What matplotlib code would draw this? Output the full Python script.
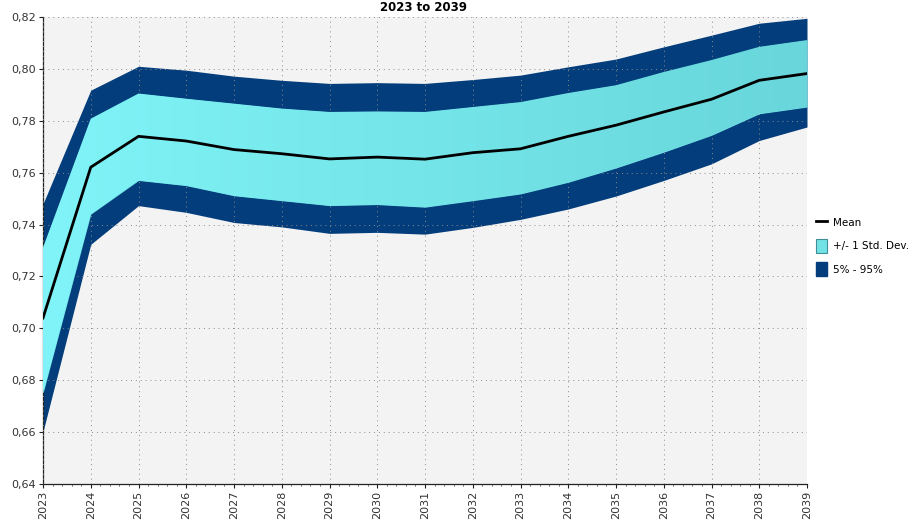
import numpy as np
import matplotlib
matplotlib.use("Agg")
import matplotlib.pyplot as plt
from matplotlib.lines import Line2D
from matplotlib.patches import Patch
from matplotlib.ticker import FixedLocator, FuncFormatter, MultipleLocator

years = list(range(2023, 2040))

mean = [0.7040, 0.7621, 0.7740, 0.7722, 0.7689, 0.7673, 0.7653, 0.7660, 0.7652,
        0.7677, 0.7692, 0.7740, 0.7783, 0.7834, 0.7883, 0.7956, 0.7982]
std_hi = [0.7311, 0.7808, 0.7905, 0.7885, 0.7866, 0.7847, 0.7834, 0.7836, 0.7834,
          0.7853, 0.7872, 0.7907, 0.7937, 0.7988, 0.8034, 0.8085, 0.8111]
std_lo = [0.6750, 0.7440, 0.7570, 0.7550, 0.7511, 0.7492, 0.7473, 0.7477, 0.7467,
          0.7492, 0.7518, 0.7563, 0.7618, 0.7679, 0.7744, 0.7827, 0.7853]
p95 = [0.7480, 0.7918, 0.8010, 0.7995, 0.7972, 0.7956, 0.7944, 0.7947, 0.7944,
       0.7959, 0.7976, 0.8008, 0.8038, 0.8085, 0.8130, 0.8176, 0.8195]
p05 = [0.6602, 0.7324, 0.7473, 0.7447, 0.7408, 0.7391, 0.7366, 0.7370, 0.7363,
       0.7389, 0.7420, 0.7460, 0.7510, 0.7570, 0.7634, 0.7724, 0.7776]

navy = "#033d7b"
cyan = "#72e2e6"

fig = plt.figure(figsize=(9.19, 5.22), dpi=100)
ax = fig.add_axes([43 / 919, 38 / 522, 764 / 919, 467 / 522])
ax.set_facecolor("#f3f3f3")

# 5% - 95% band
ax.fill_between(years, p05, p95, color=navy, lw=0, zorder=2)

# +/- 1 std band, shaded with a soft left-to-right gradient
band = ax.fill_between(years, std_lo, std_hi, color=cyan, lw=0, zorder=3)
grad = np.linspace(0, 1, 256).reshape(1, -1)
c0 = np.array([128, 244, 248]) / 255
c1 = np.array([104, 214, 218]) / 255
img = c0[None, None, :] * (1 - grad[..., None]) + c1[None, None, :] * grad[..., None]
im = ax.imshow(img, extent=[2023, 2039, 0.64, 0.82], aspect="auto",
               origin="lower", zorder=3.5, interpolation="bilinear")
im.set_clip_path(band.get_paths()[0], transform=ax.transData)

ax.plot(years, mean, color="black", lw=2, zorder=5)

ax.set_xlim(2023, 2039)
ax.set_ylim(0.64, 0.82)
ax.xaxis.set_major_locator(FixedLocator(years))
ax.xaxis.set_minor_locator(MultipleLocator(0.2))
ax.yaxis.set_major_locator(MultipleLocator(0.02))
ax.yaxis.set_major_formatter(FuncFormatter(lambda v, p: f"{v:.2f}".replace(".", ",")))
ax.set_xticks(years)
ax.set_xticklabels([str(y) for y in years], rotation=90)

ax.grid(True, which="major", color="#8a8a8a", linestyle=(0, (1, 4)), lw=0.7, zorder=4)
ax.set_axisbelow(False)

for s in ("top", "right"):
    ax.spines[s].set_visible(False)
for s in ("left", "bottom"):
    ax.spines[s].set_color("#222222")
    ax.spines[s].set_linewidth(0.9)

ax.tick_params(axis="both", which="major", length=3, width=0.8, color="#222222",
               labelsize=8, labelcolor="#333333", pad=2)
ax.tick_params(axis="x", which="minor", length=1.5, width=0.6, color="#444444")

fig.text(424 / 919, 1 - 11 / 522, "2023 to 2039", ha="center", va="baseline",
         fontsize=8.5, fontweight="bold")

handles = [
    Line2D([0], [0], color="black", lw=2),
    Patch(facecolor=cyan, edgecolor="#3f8f96", lw=0.8),
    Patch(facecolor=navy, edgecolor=navy),
]
labels = ["Mean", "+/- 1 Std. Dev.", "5% - 95%"]
fig.legend(handles, labels, loc="center left", bbox_to_anchor=(816 / 919, 1 - 246 / 522),
           frameon=False, fontsize=7.5, handlelength=1.1, handleheight=1.7,
           handletextpad=0.5, labelspacing=0.9, borderaxespad=0, borderpad=0)

fig.savefig("out.png", dpi=100)
